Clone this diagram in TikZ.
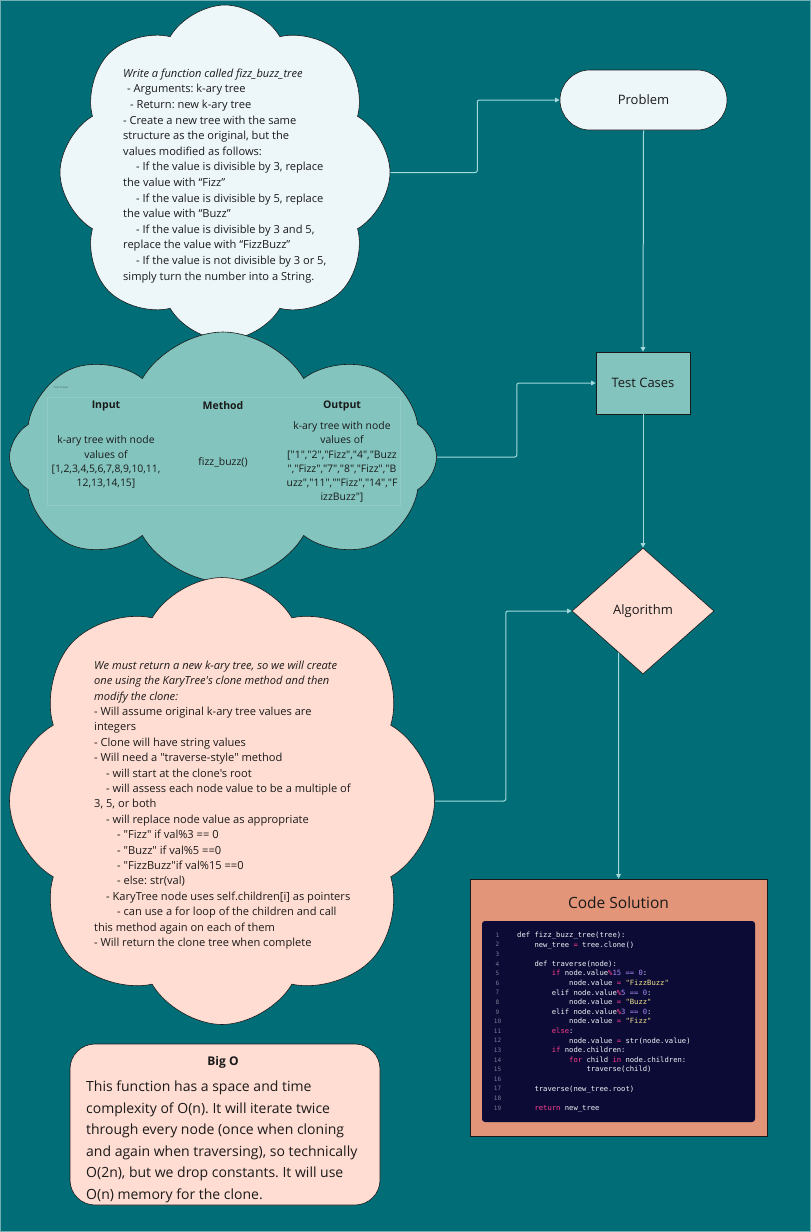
\documentclass[tikz,border=0pt]{standalone}
\usepackage{fontspec}
\setmainfont{Open Sans}[Ligatures=TeXOff]
\setmonofont{DejaVu Sans Mono}
\usetikzlibrary{shapes.symbols,shapes.geometric,arrows.meta,calc}
\definecolor{bg}{HTML}{006D77}
\definecolor{lite}{HTML}{EDF6F9}
\definecolor{tealc}{HTML}{83C5BE}
\definecolor{pinkc}{HTML}{FFDDD2}
\definecolor{salm}{HTML}{E29578}
\definecolor{navy}{HTML}{0B0B36}
\definecolor{conncol}{HTML}{A3D9DB}
\definecolor{ink}{HTML}{1A1A1A}
\definecolor{cpink}{HTML}{FF3E8E}
\definecolor{cpurp}{HTML}{A98BF5}
\definecolor{cyel}{HTML}{F4E48C}
\definecolor{cwhite}{HTML}{F2F2F6}
\definecolor{cgray}{HTML}{7A7A96}
\definecolor{frame}{HTML}{92CAC5}
\newcommand\ckw[1]{\textcolor{cpink}{#1}}
\newcommand\cnum[1]{\textcolor{cpurp}{#1}}
\newcommand\cstr[1]{\textcolor{cyel}{#1}}
\frenchspacing
\begin{document}
\begin{tikzpicture}[x=1pt,y=-1pt,
  cloudbox/.style={cloud, cloud puffs=8, cloud puff arc=120, cloud ignores aspect, draw=ink, line width=0.6pt, inner sep=0pt},
  conn/.style={draw=conncol, line width=1pt, rounded corners=2pt, -{Triangle[length=4.5pt,width=4.5pt]}},
  txt/.style={inner sep=0pt, text=ink, font=\fontsize{11.1}{15.6}\selectfont, align=left, anchor=north west},
  flowbox/.style={draw=ink, line width=0.6pt, text=ink, font=\fontsize{13}{15}\selectfont, inner sep=0pt},
  hdr/.style={inner sep=0pt, text=ink, font=\fontsize{10.5}{13}\selectfont\bfseries},
  cell/.style={inner sep=0pt, text=ink, font=\fontsize{10.4}{14.2}\selectfont, align=center}
]
\useasboundingbox (0,0) rectangle (811,1232);
\fill[bg] (0,0) rectangle (811,1232);
\draw[line width=2pt, color=bg!55!white] (0,0) rectangle (811,1232);

% clouds
\node[cloudbox, fill=lite, minimum width=330pt, minimum height=335pt] (cloudA) at (225,172.5) {};
\node[cloudbox, fill=tealc, minimum width=427pt, minimum height=250pt] (cloudB) at (223,457) {};
\node[cloudbox, fill=pinkc, minimum width=425pt, minimum height=447pt] (cloudC) at (222,801) {};

% top cloud text
\node[txt] (probtxt) at (123,68.7) {%
\textit{Write a function called fizz\_buzz\_tree}\\
\hspace*{4pt}- Arguments: k-ary tree\\
\hspace*{7pt}- Return: new k-ary tree\\
- Create a new tree with the same\\
structure as the original, but the\\
values modified as follows:\\
\hspace*{13pt}- If the value is divisible by 3, replace\\
the value with “Fizz”\\
\hspace*{13pt}- If the value is divisible by 5, replace\\
the value with “Buzz”\\
\hspace*{13pt}- If the value is divisible by 3 and 5,\\
replace the value with “FizzBuzz”\\
\hspace*{13pt}- If the value is not divisible by 3 or 5,\\
simply turn the number into a String.};

% test table
\draw[frame, line width=0.4pt] (47,397) rectangle (400,505);
\node[inner sep=0pt, text=ink!55!tealc, font=\fontsize{3}{3}\selectfont] (tclabel) at (61,387) {Test Cases};
\node[hdr] (hin) at (106,406) {Input};
\node[hdr] (hme) at (223,406) {Method};
\node[hdr] (hout) at (342,406) {Output};
\node[cell] (cin) at (106,462) {k-ary tree with node\\values of\\{[}1,2,3,4,5,6,7,8,9,10,11,\\12,13,14,15]};
\node[cell] (cme) at (223,462) {fizz\_buzz()};
\node[cell] (cout) at (342,462) {k-ary tree with node\\values of\\{[}"1","2","Fizz","4","Buzz\\","Fizz","7","8","Fizz","B\\uzz","11",""Fizz","14","F\\izzBuzz"]};

% algorithm cloud text
\node[txt, font=\fontsize{11.1}{15.4}\selectfont] (algtxt) at (94,660.7) {%
\textit{We must return a new k-ary tree, so we will create}\\
\textit{one using the KaryTree's clone method and then}\\
\textit{modify the clone:}\\
- Will assume original k-ary tree values are\\
integers\\
- Clone will have string values\\
- Will need a "traverse-style" method\\
\hspace*{12pt}- will start at the clone's root\\
\hspace*{12pt}- will assess each node value to be a multiple of\\
3, 5, or both\\
\hspace*{12pt}- will replace node value as appropriate\\
\hspace*{23pt}- "Fizz" if val\%3 == 0\\
\hspace*{23pt}- "Buzz" if val\%5 ==0\\
\hspace*{23pt}- "FizzBuzz"if val\%15 ==0\\
\hspace*{23pt}- else: str(val)\\
\hspace*{12pt}- KaryTree node uses self.children[i] as pointers\\
\hspace*{23pt}- can use a for loop of the children and call\\
this method again on each of them\\
- Will return the clone tree when complete};

% Big O
\node[draw=ink, line width=0.6pt, fill=pinkc, rounded corners=25pt, minimum width=310pt, minimum height=161pt, inner sep=0pt] (bigo) at (225,1124.5) {};
\node[inner sep=0pt, text=ink, font=\fontsize{12}{14}\selectfont\bfseries] (bigot) at (223,1062) {Big O};
\node[txt, font=\fontsize{14}{21.6}\selectfont] (bigotxt) at (86,1080.5) {%
This function has a space and time\\
complexity of O(n). It will iterate twice\\
through every node (once when cloning\\
and again when traversing), so technically\\
O(2n), but we drop constants. It will use\\
O(n) memory for the clone.};

% flow nodes
\node[flowbox, fill=lite, rounded corners=30pt, minimum width=167pt, minimum height=60pt] (problem) at (643.5,100) {Problem};
\node[flowbox, fill=tealc, minimum width=94pt, minimum height=62pt] (tests) at (643,383) {Test Cases};
\node[flowbox, fill=pinkc, diamond, aspect=1.127, minimum width=142pt, minimum height=126pt] (alg) at (643,611) {Algorithm};
\node[flowbox, fill=salm, minimum width=297pt, minimum height=257pt] (code) at (618.5,1007.5) {};
\node[inner sep=0pt, text=ink, font=\fontsize{15.5}{18}\selectfont] (codet) at (618.5,903) {Code Solution};
\node[fill=navy, rounded corners=3pt, minimum width=273pt, minimum height=201pt, inner sep=0pt] (codebox) at (618.5,1021.5) {};
\node[inner sep=0pt, anchor=north, align=center, text=cgray, font=\ttfamily\fontsize{6}{9.6}\selectfont] (lnums) at (497.5,932.8) {1\\2\\3\\4\\5\\6\\7\\8\\9\\10\\11\\12\\13\\14\\15\\16\\17\\18\\19};
\node[inner sep=0pt, anchor=north west, align=left, text=cwhite, font=\ttfamily\fontsize{7.2}{9.6}\selectfont] (codetxt) at (517,931.8) {%
def fizz\_buzz\_tree(tree):\\
\phantom{0000}new\_tree \ckw{=} tree.clone()\\
\mbox{}\\
\phantom{0000}def traverse(node):\\
\phantom{00000000}\ckw{if} node.value\ckw{\%}\cnum{15} \cnum{==} \cnum{0}:\\
\phantom{000000000000}node.value \ckw{=} \cstr{"FizzBuzz"}\\
\phantom{00000000}elif node.value\ckw{\%}\cnum{5} \cnum{==} \cnum{0}:\\
\phantom{000000000000}node.value \ckw{=} \cstr{"Buzz"}\\
\phantom{00000000}elif node.value\ckw{\%}\cnum{3} \cnum{==} \cnum{0}:\\
\phantom{000000000000}node.value \ckw{=} \cstr{"Fizz"}\\
\phantom{00000000}\ckw{else}:\\
\phantom{000000000000}node.value \ckw{=} str(node.value)\\
\phantom{00000000}\ckw{if} node.children:\\
\phantom{000000000000}\ckw{for} child \ckw{in} node.children:\\
\phantom{0000000000000000}traverse(child)\\
\mbox{}\\
\phantom{0000}traverse(new\_tree.root)\\
\mbox{}\\
\phantom{0000}\ckw{return} new\_tree};

% connectors
\draw[conn] (cloudA.east) -- ++(87,0) |- (problem.west);
\draw[conn] (problem.south) -- (tests.north);
\draw[conn] (cloudB.east) -- ++(80,0) |- (tests.west);
\draw[conn] (tests.south) -- (alg.north);
\draw[conn] (cloudC.east) -- ++(71,0) |- (alg.west);
\coordinate (algout) at (intersection of alg.south--alg.west and code.north--code.center);
\draw[conn] (algout) -- (code.north);
\end{tikzpicture}
\end{document}
